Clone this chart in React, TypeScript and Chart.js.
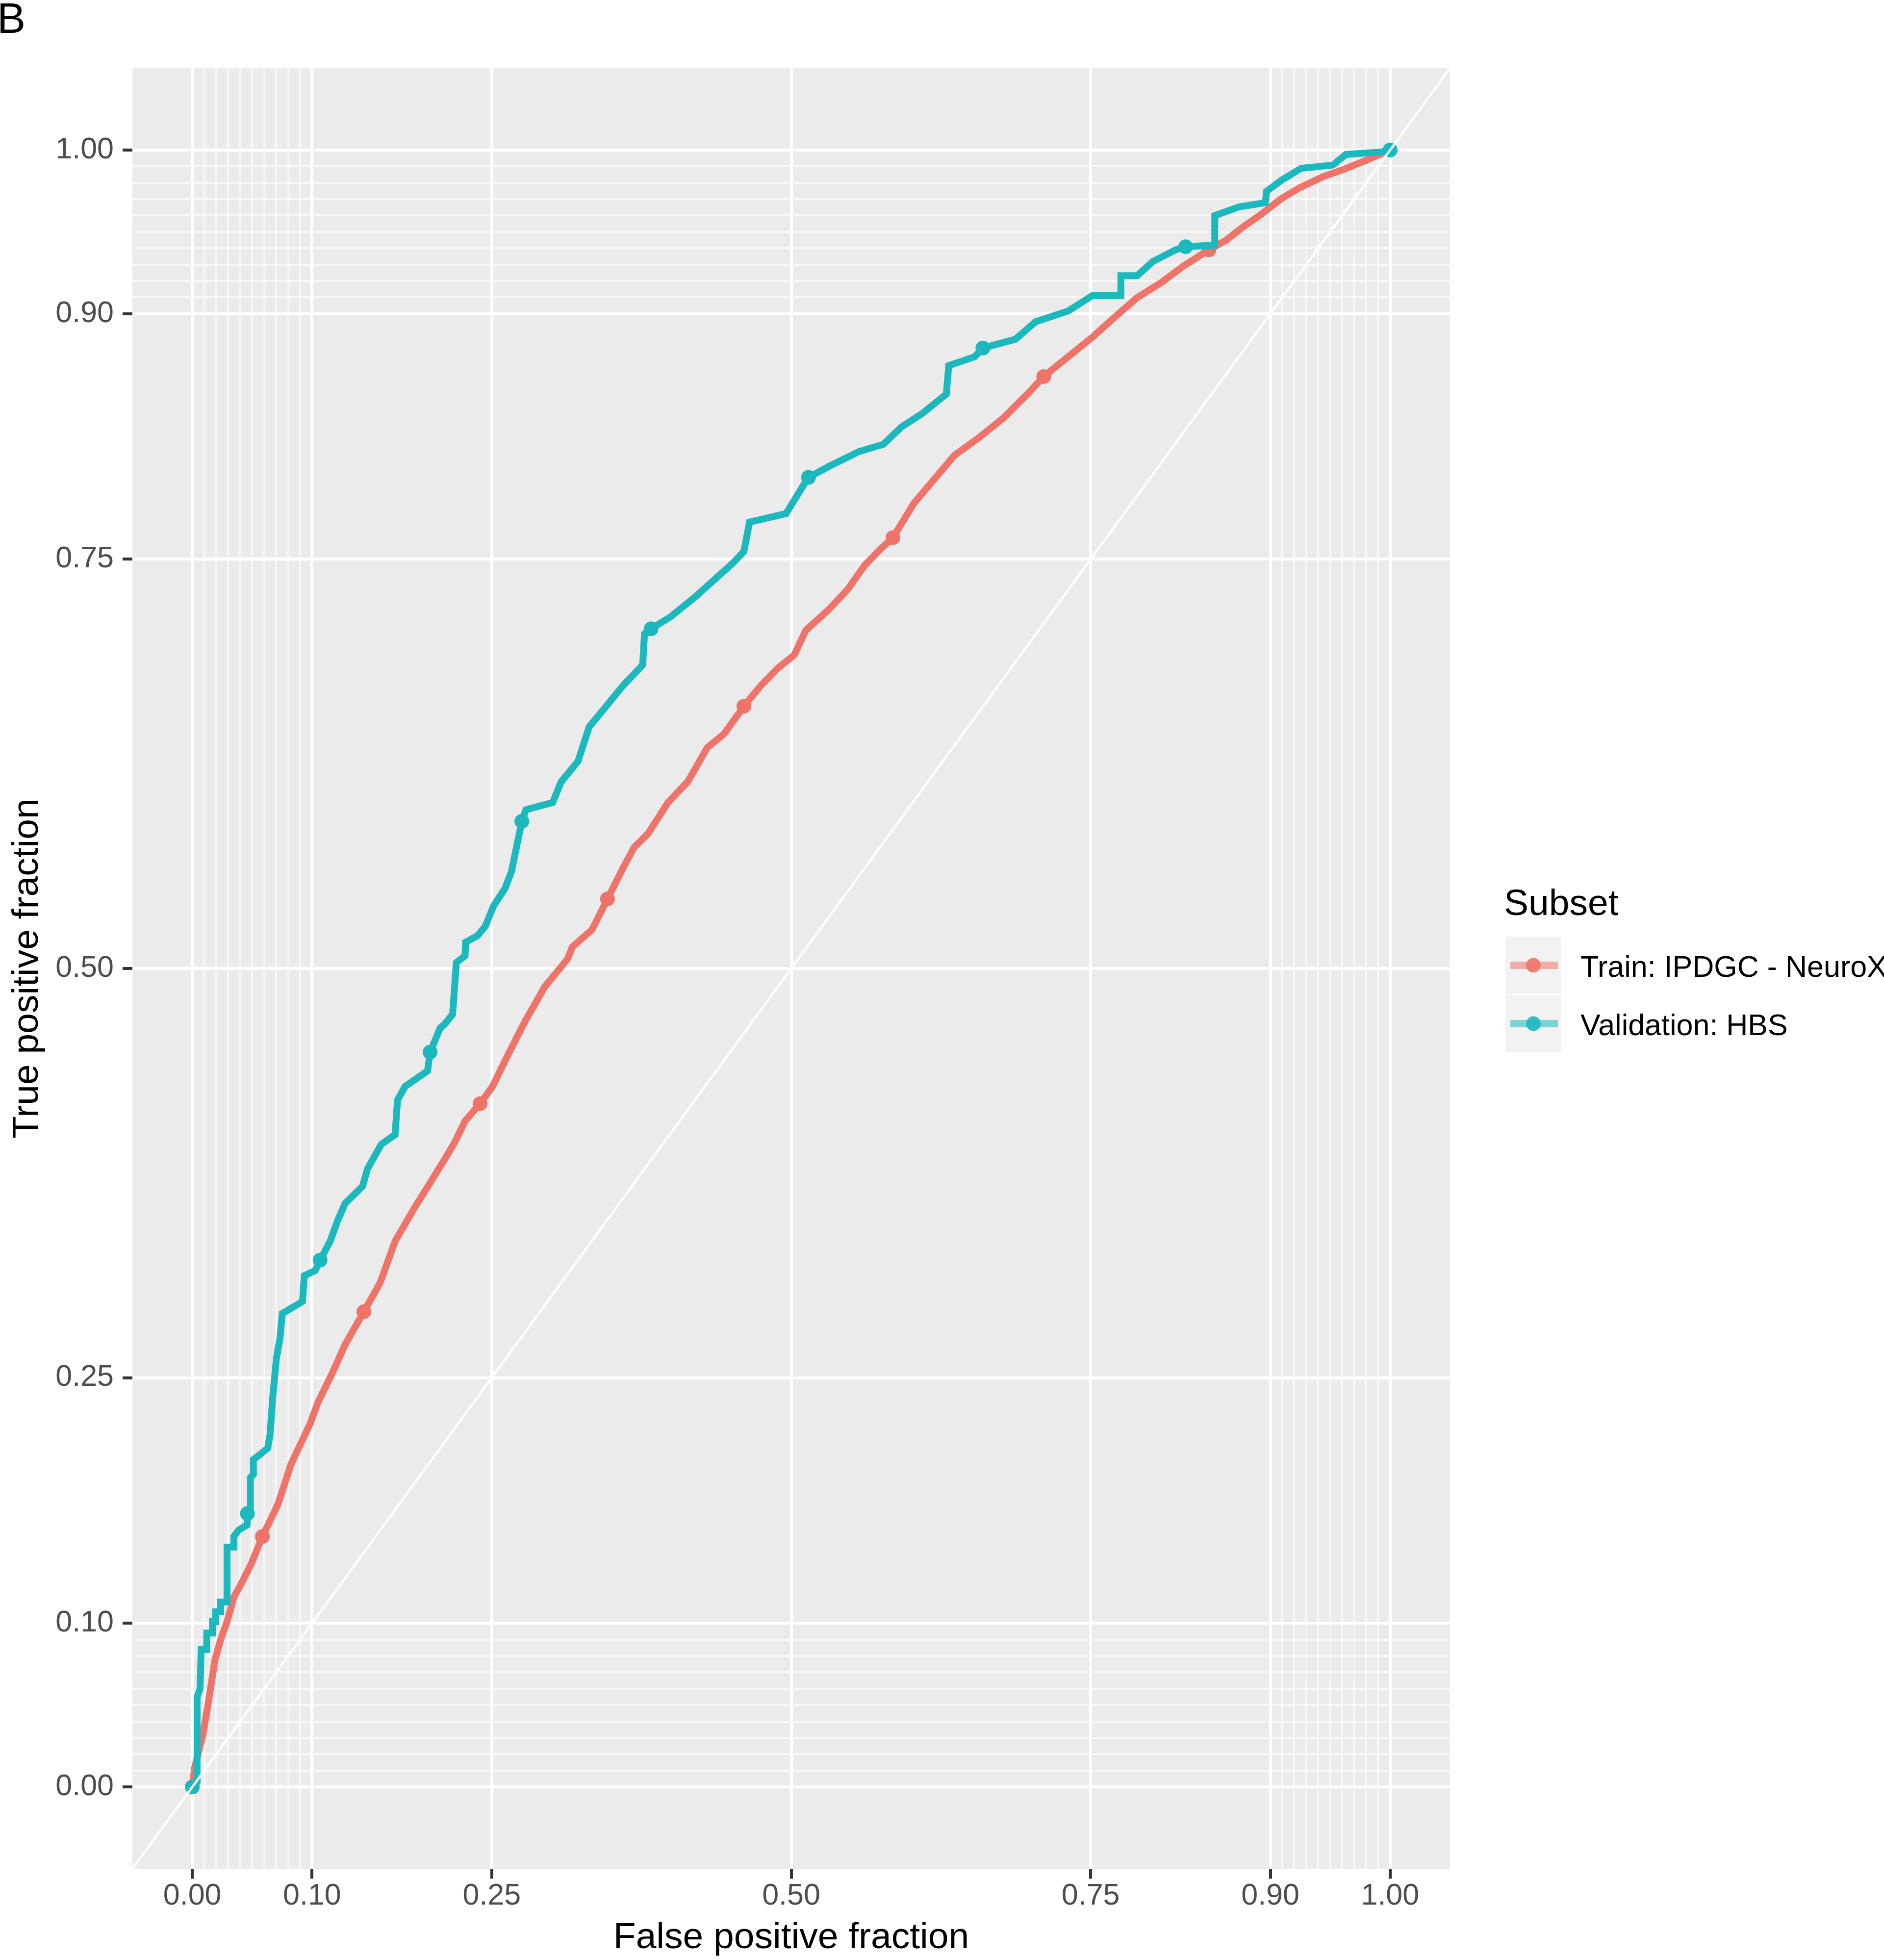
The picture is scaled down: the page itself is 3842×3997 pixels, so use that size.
import React, { useEffect, useRef } from "react";
import { Chart, registerables } from "chart.js";

Chart.register(...registerables);

// ---------- data ----------
const trainFpr = [
  0, 0.002, 0.0086, 0.0135, 0.0189, 0.0237, 0.029, 0.0347, 0.0415, 0.0496, 0.0585, 0.0714, 0.0823,
  0.0984, 0.1047, 0.1172, 0.1276, 0.1432, 0.1568, 0.1693, 0.186, 0.1985, 0.211, 0.2194, 0.2277,
  0.2402, 0.2506, 0.2632, 0.2778, 0.2944, 0.3132, 0.3173, 0.3337, 0.3466, 0.3596, 0.3689, 0.3806,
  0.3971, 0.4135, 0.43, 0.444, 0.4605, 0.4746, 0.4886, 0.5027, 0.5121, 0.5309, 0.5473, 0.5614,
  0.5755, 0.5849, 0.6023, 0.6193, 0.6363, 0.6566, 0.677, 0.6973, 0.7108, 0.7312, 0.7515, 0.7719,
  0.7888, 0.8091, 0.827, 0.8487, 0.863, 0.877, 0.8927, 0.9084, 0.924, 0.9443, 0.96, 0.9803, 1,
];
const trainTpr = [
  0, 0.012, 0.031, 0.052, 0.0776, 0.09, 0.101, 0.116, 0.125, 0.137, 0.153, 0.1725, 0.197,
  0.222, 0.2346, 0.2534, 0.2703, 0.2903, 0.308, 0.3334, 0.3544, 0.369, 0.3838, 0.3943, 0.4068,
  0.4174, 0.4279, 0.4468, 0.4678, 0.489, 0.5057, 0.5132, 0.5237, 0.5425, 0.5614, 0.574, 0.5825,
  0.6014, 0.614, 0.635, 0.6434, 0.6602, 0.6728, 0.6833, 0.6917, 0.7065, 0.719, 0.7317, 0.7464,
  0.7569, 0.7632, 0.7841, 0.7988, 0.8135, 0.8242, 0.8362, 0.851, 0.8616, 0.8737, 0.8857, 0.8991,
  0.9098, 0.9191, 0.9289, 0.939, 0.9449, 0.9529, 0.9609, 0.9699, 0.9768, 0.9838, 0.9878, 0.9938, 1,
];

const validFpr = [
  0, 0.004, 0.004, 0.0065, 0.0074, 0.0121, 0.0121, 0.0168, 0.0168, 0.0195, 0.0195, 0.0237, 0.0237,
  0.029, 0.029, 0.0347, 0.0347, 0.0388, 0.0457, 0.046, 0.0485, 0.0485, 0.051, 0.051, 0.0564, 0.063,
  0.065, 0.067, 0.0702, 0.0733, 0.0751, 0.092, 0.0935, 0.1026, 0.1067, 0.1151, 0.1213, 0.1276,
  0.1422, 0.1462, 0.1526, 0.1578, 0.1693, 0.1713, 0.1776, 0.1964, 0.1985, 0.2069, 0.2107, 0.2173,
  0.2204, 0.2277, 0.2281, 0.2381, 0.2446, 0.2516, 0.261, 0.2665, 0.2751, 0.2785, 0.3009, 0.3079,
  0.322, 0.3314, 0.3408, 0.3596, 0.376, 0.3775, 0.383, 0.3994, 0.4206, 0.4511, 0.4605, 0.4652,
  0.4957, 0.5098, 0.5144, 0.5333, 0.5567, 0.5769, 0.5922, 0.6092, 0.6295, 0.6315, 0.6532, 0.66,
  0.6871, 0.704, 0.7312, 0.7515, 0.7752, 0.7752, 0.7888, 0.8019, 0.8207, 0.8293, 0.8536, 0.8536,
  0.874, 0.8958, 0.8968, 0.9099, 0.9256, 0.9522, 0.9631, 0.9928, 1,
];
const validTpr = [
  0, 0.003, 0.055, 0.06, 0.084, 0.084, 0.094, 0.094, 0.101, 0.101, 0.107, 0.107, 0.113,
  0.113, 0.1465, 0.1465, 0.153, 0.157, 0.16, 0.167, 0.17, 0.189, 0.191, 0.2, 0.203, 0.207,
  0.2157, 0.2367, 0.2618, 0.2744, 0.2892, 0.2966, 0.3123, 0.3155, 0.3218, 0.3334, 0.346, 0.3565,
  0.367, 0.3775, 0.3859, 0.3926, 0.3985, 0.4195, 0.4279, 0.4374, 0.4489, 0.4636, 0.466, 0.472,
  0.5036, 0.5078, 0.516, 0.52, 0.5258, 0.5383, 0.5488, 0.5593, 0.5899, 0.597, 0.6014, 0.614,
  0.6266, 0.6477, 0.656, 0.6728, 0.6854, 0.7044, 0.7075, 0.7149, 0.7275, 0.7475, 0.7548, 0.7727,
  0.7779, 0.7947, 0.8, 0.8074, 0.8158, 0.8202, 0.8309, 0.8389, 0.8509, 0.8683, 0.8737, 0.879,
  0.8844, 0.8951, 0.9017, 0.9111, 0.9111, 0.9232, 0.9232, 0.9319, 0.9389, 0.9409, 0.9419, 0.9599,
  0.9653, 0.9678, 0.9748, 0.9818, 0.9888, 0.9908, 0.9973, 0.9988, 1,
];

const trainCutFpr = [0, 0.0585, 0.1432, 0.2402, 0.3466, 0.4605, 0.5849, 0.7108, 0.8487, 1];
const trainCutTpr = [0, 0.153, 0.2903, 0.4174, 0.5425, 0.6602, 0.7632, 0.8616, 0.939, 1];
const validCutFpr = [0, 0.046, 0.1067, 0.1985, 0.2751, 0.383, 0.5144, 0.66, 0.8293, 1];
const validCutTpr = [0, 0.167, 0.3218, 0.4489, 0.5899, 0.7075, 0.8, 0.879, 0.9409, 1];

const majorBreaks = [0, 0.1, 0.25, 0.5, 0.75, 0.9, 1];
const tickLabels = ["0.00", "0.10", "0.25", "0.50", "0.75", "0.90", "1.00"];
const minorBreaks = [
  0.01, 0.02, 0.03, 0.04, 0.05, 0.06, 0.07, 0.08, 0.09,
  0.91, 0.92, 0.93, 0.94, 0.95, 0.96, 0.97, 0.98, 0.99,
];
const axisRange = [-0.05, 1.05];

const seriesNames = ["Train: IPDGC - NeuroX", "Validation: HBS"];
const legendTitle = "Subset";
const panelTag = "B";
const xTitle = "False positive fraction";
const yTitle = "True positive fraction";

// ---------- styling ----------
const W = 3842;
const H = 3997;
const FONT = '"Liberation Sans", Arial, Helvetica, sans-serif';
const RED = "rgb(240,115,106)";
const CYAN = "rgb(27,185,189)";
const PANEL = "#EBEBEB";

const pts = (xs: number[], ys: number[]) => xs.map((x, i) => ({ x, y: ys[i] }));
const allTicks = [...majorBreaks, ...minorBreaks].sort((a, b) => a - b);
const isMajor = (v: number) => majorBreaks.some((m) => Math.abs(m - v) < 1e-9);
const labelFor = (v: number) => {
  const i = majorBreaks.findIndex((m) => Math.abs(m - v) < 1e-9);
  return i >= 0 ? tickLabels[i] : "";
};

const gridOpts = () => ({
  color: (c: any) => (c.tick && isMajor(c.tick.value) ? "#FFFFFF" : "rgba(255,255,255,0.6)"),
  lineWidth: (c: any) => (c.tick && isMajor(c.tick.value) ? 6 : 4),
  tickColor: (c: any) => (c.tick && isMajor(c.tick.value) ? "#333333" : "rgba(0,0,0,0)"),
  tickLength: 20,
  tickWidth: 6,
  drawTicks: true,
  drawOnChartArea: true,
});

const backgroundPlugin = {
  id: "panelBackground",
  beforeDraw(chart: any) {
    const { ctx, chartArea } = chart;
    ctx.save();
    ctx.fillStyle = "#FFFFFF";
    ctx.fillRect(0, 0, chart.width, chart.height);
    ctx.fillStyle = PANEL;
    ctx.fillRect(chartArea.left, chartArea.top, chartArea.right - chartArea.left, chartArea.bottom - chartArea.top);
    ctx.restore();
  },
};

const legendPlugin = {
  id: "ggLegend",
  afterDraw(chart: any) {
    const ctx = chart.ctx;
    ctx.save();
    ctx.textAlign = "left";
    ctx.textBaseline = "alphabetic";
    ctx.fillStyle = "#000000";
    ctx.font = `87px ${FONT}`;
    ctx.fillText(panelTag, -6, 67);

    ctx.font = `75px ${FONT}`;
    ctx.fillText(legendTitle, 3067, 1866);

    const entries = [
      { color: chart.data.datasets[4].borderColor, top: 1910, label: seriesNames[0] },
      { color: chart.data.datasets[2].borderColor, top: 2029, label: seriesNames[1] },
    ];
    entries.forEach((e) => {
      ctx.globalAlpha = 1;
      ctx.fillStyle = "#F2F2F2";
      ctx.fillRect(3070, e.top, 113, 117);
      const cy = e.top + 58.5;
      ctx.globalAlpha = 0.55;
      ctx.strokeStyle = e.color;
      ctx.lineWidth = 15;
      ctx.beginPath();
      ctx.moveTo(3080, cy);
      ctx.lineTo(3177, cy);
      ctx.stroke();
      ctx.globalAlpha = 0.9;
      ctx.fillStyle = e.color;
      ctx.beginPath();
      ctx.arc(3127, cy, 15, 0, Math.PI * 2);
      ctx.fill();
      ctx.globalAlpha = 1;
      ctx.fillStyle = "#000000";
      ctx.font = `61px ${FONT}`;
      ctx.fillText(e.label, 3223, cy + 23);
    });
    ctx.restore();
  },
};

export default function App() {
  const ref = useRef<HTMLCanvasElement | null>(null);

  useEffect(() => {
    if (!ref.current) return;
    const chart = new Chart(ref.current, {
      type: "scatter",
      data: {
        datasets: [
          {
            label: "diagonal",
            data: [
              { x: axisRange[0], y: axisRange[0] },
              { x: axisRange[1], y: axisRange[1] },
            ],
            showLine: true,
            borderColor: "rgba(255,255,255,0.9)",
            borderWidth: 5,
            pointRadius: 0,
            order: 0,
          },
          {
            label: seriesNames[1] + " cutoffs",
            data: pts(validCutFpr, validCutTpr),
            showLine: false,
            pointRadius: 15,
            pointBorderWidth: 0,
            backgroundColor: CYAN,
            borderColor: CYAN,
            order: 1,
          },
          {
            label: seriesNames[1],
            data: pts(validFpr, validTpr),
            showLine: true,
            borderColor: CYAN,
            backgroundColor: CYAN,
            borderWidth: 14,
            pointRadius: 0,
            tension: 0,
            order: 2,
          },
          {
            label: seriesNames[0] + " cutoffs",
            data: pts(trainCutFpr, trainCutTpr),
            showLine: false,
            pointRadius: 15,
            pointBorderWidth: 0,
            backgroundColor: RED,
            borderColor: RED,
            order: 3,
          },
          {
            label: seriesNames[0],
            data: pts(trainFpr, trainTpr),
            showLine: true,
            borderColor: RED,
            backgroundColor: RED,
            borderWidth: 14,
            pointRadius: 0,
            tension: 0,
            order: 4,
          },
        ],
      },
      options: {
        responsive: false,
        animation: false,
        devicePixelRatio: 1,
        layout: { padding: { left: 0, top: 139, right: W - 2957, bottom: 0 } },
        plugins: { legend: { display: false }, tooltip: { enabled: false } },
        scales: {
          x: {
            type: "linear",
            position: "bottom",
            min: axisRange[0],
            max: axisRange[1],
            afterBuildTicks: (s: any) => {
              s.ticks = allTicks.map((v) => ({ value: v }));
            },
            afterFit: (s: any) => {
              s.height = 186;
            },
            ticks: {
              autoSkip: false,
              maxRotation: 0,
              minRotation: 0,
              padding: 0,
              color: "#4D4D4D",
              font: { family: FONT, size: 61 },
              callback: (v: any) => labelFor(Number(v)),
            },
            grid: gridOpts(),
            border: { display: false },
            title: {
              display: true,
              text: xTitle,
              color: "#000000",
              font: { family: FONT, size: 75 },
              padding: { top: 0, bottom: 0 },
            },
          },
          y: {
            type: "linear",
            position: "left",
            min: axisRange[0],
            max: axisRange[1],
            afterBuildTicks: (s: any) => {
              s.ticks = allTicks.map((v) => ({ value: v }));
            },
            afterFit: (s: any) => {
              s.width = 270;
            },
            ticks: {
              autoSkip: false,
              padding: 18,
              color: "#4D4D4D",
              font: { family: FONT, size: 61 },
              callback: (v: any) => labelFor(Number(v)),
            },
            grid: gridOpts(),
            border: { display: false },
            title: {
              display: true,
              text: yTitle,
              color: "#000000",
              font: { family: FONT, size: 75 },
              padding: { top: 11, bottom: 0 },
            },
          },
        },
      },
      plugins: [backgroundPlugin, legendPlugin],
    } as any);
    return () => chart.destroy();
  }, []);

  return (
    <canvas
      ref={ref}
      width={W}
      height={H}
      style={{ position: "absolute", left: 0, top: 0, width: `${W}px`, height: `${H}px` }}
    />
  );
}
